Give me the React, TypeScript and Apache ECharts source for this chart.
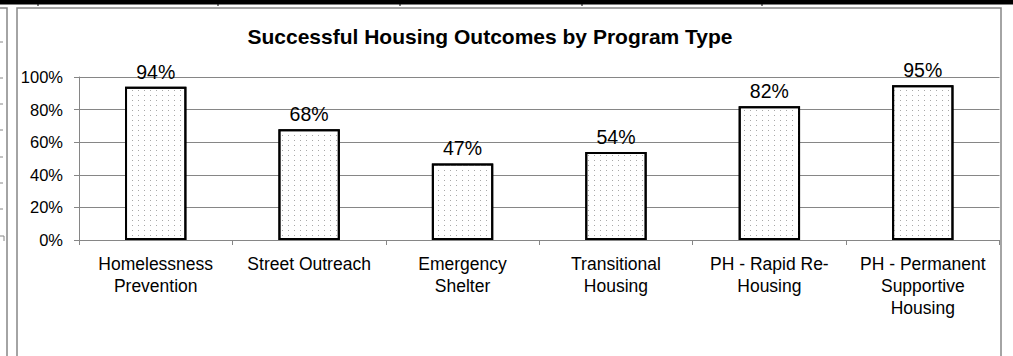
import React, { useEffect, useRef } from "react";
import * as echarts from "echarts";

const categories: string[] = [
  "Homelessness\nPrevention",
  "Street Outreach",
  "Emergency\nShelter",
  "Transitional\nHousing",
  "PH - Rapid Re-\nHousing",
  "PH - Permanent\nSupportive\nHousing",
];
const successRates: number[] = [0.94, 0.68, 0.47, 0.54, 0.82, 0.95];
const titleText = "Successful Housing Outcomes by Program Type";
const yTicks = { min: 0, max: 1, interval: 0.2 };

const FONT = "'Liberation Sans', Arial, sans-serif";
const GRAY = "#868686";

export default function App() {
  const ref = useRef<HTMLDivElement>(null);
  useEffect(() => {
    if (!ref.current) return;
    const chart = echarts.init(ref.current, null, { renderer: "svg" });
    const leftTicksY = [42, 78, 104, 130, 157, 183, 209];
    const topTicksX = [38, 218, 400, 582, 762];
    chart.setOption({
      animation: false,
      backgroundColor: "#ffffff",
      textStyle: { fontFamily: FONT },
      grid: { left: 79, right: 13.5, top: 77, bottom: 116, containLabel: false },
      xAxis: {
        type: "category",
        data: categories,
        axisLine: { show: true, lineStyle: { color: GRAY, width: 1 } },
        axisTick: { show: true, alignWithLabel: false, length: 5, lineStyle: { color: GRAY } },
        axisLabel: {
          color: "#000",
          fontSize: 17.5,
          lineHeight: 22,
          margin: 13,
          interval: 0,
          fontFamily: FONT,
        },
      },
      yAxis: {
        type: "value",
        min: yTicks.min,
        max: yTicks.max,
        interval: yTicks.interval,
        axisLine: { show: true, lineStyle: { color: GRAY, width: 1 } },
        axisTick: { show: true, length: 5, lineStyle: { color: GRAY } },
        splitLine: { show: true, lineStyle: { color: GRAY, width: 1 } },
        axisLabel: {
          color: "#000",
          fontSize: 16.5,
          margin: 16,
          fontFamily: FONT,
          formatter: (v: number) => Math.round(v * 100) + "%",
        },
      },
      series: [
        {
          type: "bar",
          data: successRates,
          barWidth: "40%",
          itemStyle: {
            color: "#ffffff",
            borderColor: "#000000",
            borderWidth: 2,
            decal: {
              symbol: "rect",
              symbolSize: 1,
              color: "#a8a8a8",
              backgroundColor: "#ffffff",
              dashArrayX: [1, 5],
              dashArrayY: [1, 4],
              rotation: 0,
            },
          },
          label: {
            show: true,
            position: "top",
            distance: 5,
            color: "#000",
            fontSize: 19.5,
            fontFamily: FONT,
            formatter: (p: any) => Math.round(p.value * 100) + "%",
          },
        },
      ],
      graphic: [
        {
          type: "text",
          x: 490,
          y: 36,
          style: {
            text: titleText,
            fill: "#000",
            font: `bold 21px ${FONT}`,
            textAlign: "center",
            textVerticalAlign: "middle",
          },
        },
        { type: "rect", shape: { x: 0, y: 0, width: 1013, height: 4.5 }, style: { fill: "#000" } },
        ...topTicksX.map((x) => ({
          type: "line",
          shape: { x1: x, y1: 0, x2: x, y2: 6 },
          style: { stroke: "#000", lineWidth: 1 },
        })),
        {
          type: "rect",
          shape: { x: 17, y: 8, width: 984, height: 400 },
          style: { fill: "none", stroke: GRAY, lineWidth: 1.5 },
        },
        {
          type: "polyline",
          shape: { points: [[0, 8], [7, 8], [7, 360]] },
          style: { fill: "none", stroke: GRAY, lineWidth: 1.5 },
        },
        ...leftTicksY.map((y) => ({
          type: "line",
          shape: { x1: 0, y1: y, x2: 3, y2: y },
          style: { stroke: GRAY, lineWidth: 1 },
        })),
        {
          type: "polyline",
          shape: { points: [[0, 236], [4, 236], [4, 241]] },
          style: { fill: "none", stroke: GRAY, lineWidth: 1 },
        },
      ],
    });
    return () => chart.dispose();
  }, []);
  return (
    <div
      ref={ref}
      style={{ position: "fixed", left: 0, top: 0, width: 1013, height: 356, background: "#fff" }}
    />
  );
}
